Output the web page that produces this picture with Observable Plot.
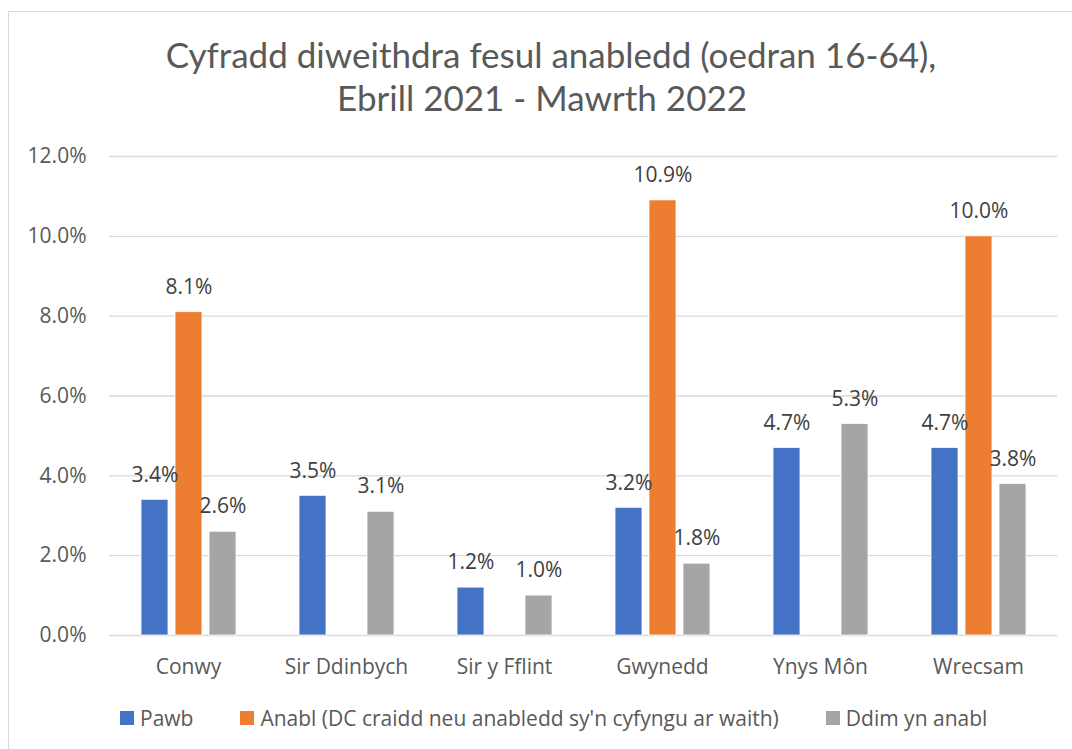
<!DOCTYPE html>
<html>
<head>
<meta charset="utf-8">
<script src="https://cdn.jsdelivr.net/npm/d3@7"></script>
<script src="https://cdn.jsdelivr.net/npm/@observablehq/plot@0.6"></script>
<style>
  html, body { margin: 0; padding: 0; background: #fff; }
  #page { position: relative; width: 1072px; height: 749px; overflow: hidden; background: #fff; }
  #frame { position: absolute; left: 8px; top: 11px; width: 1200px; height: 900px; border: 1.5px solid #d9d9d9; box-sizing: border-box; }
  #title { position: absolute; left: 0; top: 33px; width: 1092px; text-align: center; font-family: Lato, "Open Sans", sans-serif; font-size: 35px; line-height: 43px; color: #595959; }
  #title .l1 { display: block; padding-left: 10px; }
  #title .l2 { display: block; padding-right: 8px; }
  #chart { position: absolute; left: 0; top: 130px; }
  #legend { position: absolute; left: 120px; top: 704px; display: flex; align-items: center; font-family: "Open Sans", sans-serif; font-size: 21px; color: #595959; white-space: nowrap; }
  #legend .item { display: flex; align-items: center; margin-right: 47px; }
  #legend .sw { width: 14px; height: 14px; margin-right: 6px; }
</style>
</head>
<body>
<div id="page">
  <div id="frame"></div>
  <div id="title"><span class="l1">Cyfradd diweithdra fesul anabledd (oedran 16-64),</span><span class="l2">Ebrill 2021 - Mawrth 2022</span></div>
  <div id="chart"></div>
  <div id="legend"></div>
</div>
<script>
const regions = ["Conwy", "Sir Ddinbych", "Sir y Fflint", "Gwynedd", "Ynys Môn", "Wrecsam"];
const seriesNames = ["Pawb", "Anabl (DC craidd neu anabledd sy'n cyfyngu ar waith)", "Ddim yn anabl"];
const pawb  = [3.4, 3.5, 1.2, 3.2, 4.7, 4.7];
const anabl = [8.1, null, null, 10.9, null, 10.0];
const ddim  = [2.6, 3.1, 1.0, 1.8, 5.3, 3.8];
const seriesColors = ["#4472C4", "#ED7D31", "#A5A5A5"];
const yTicks = [0, 2, 4, 6, 8, 10, 12];

const seriesValues = [pawb, anabl, ddim];
const data = regions.flatMap((r, i) =>
  seriesValues.map((arr, j) => ({ region: r, series: seriesNames[j], value: arr[i] }))
).filter(d => d.value != null);

const chart = Plot.plot({
  width: 1072,
  height: 560,
  marginLeft: 108,
  marginRight: 15,
  marginTop: 26,
  marginBottom: 55,
  style: { fontFamily: "'Open Sans', sans-serif", fontSize: "21px", color: "#595959", background: "transparent", overflow: "visible" },
  facet: { data, x: "region" },
  fx: { domain: regions, padding: 0, axis: "bottom", tickSize: 0, tickPadding: 24, label: null },
  x: { domain: seriesNames, paddingInner: 0.214, paddingOuter: 0.867, axis: null },
  y: { domain: [0, 12], ticks: yTicks, tickFormat: d => d.toFixed(1) + "%", tickSize: 0, tickPadding: 23, label: null, line: false },
  color: { domain: seriesNames, range: seriesColors },
  marks: [
    Plot.ruleY(yTicks, { stroke: "#d9d9d9", strokeWidth: 1.3 }),
    Plot.barY(data, { x: "series", y: "value", fill: "series", stroke: "white", strokeWidth: 0.8 }),
    Plot.text(data, { x: "series", y: "value", text: d => d.value.toFixed(1) + "%", dy: -25, fill: "#404040", fontSize: 21 })
  ]
});
document.getElementById("chart").appendChild(chart);

const legend = document.getElementById("legend");
seriesNames.forEach((name, i) => {
  const item = document.createElement("div");
  item.className = "item";
  const sw = document.createElement("span");
  sw.className = "sw";
  sw.style.background = seriesColors[i];
  const label = document.createElement("span");
  label.textContent = name;
  item.appendChild(sw);
  item.appendChild(label);
  legend.appendChild(item);
});
</script>
</body>
</html>
